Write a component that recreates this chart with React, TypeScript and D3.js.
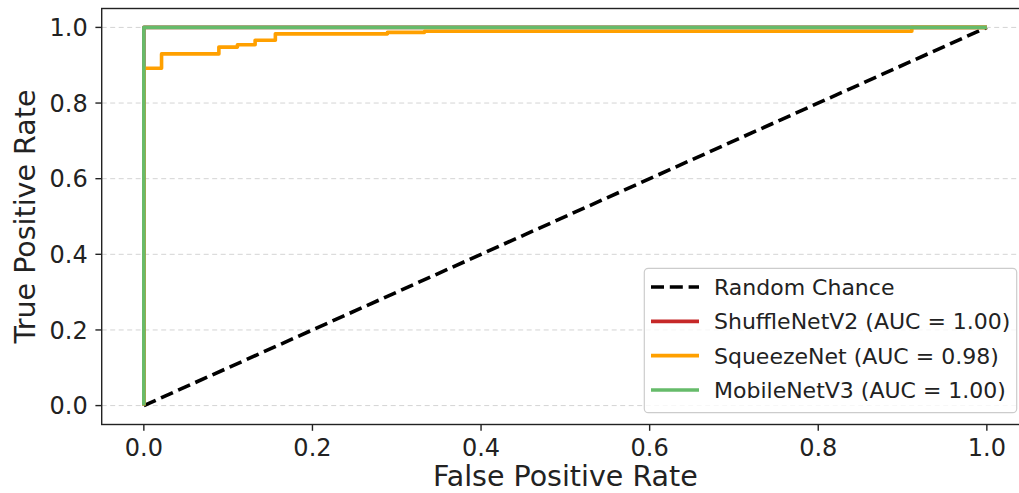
import * as d3 from "d3";
import { useEffect, useRef } from "react";

// ROC curves
const randomFpr = [0, 1];
const randomTpr = [0, 1];

const shuffleFpr = [0, 0, 1];
const shuffleTpr = [0, 1, 1];

const squeezeFpr = [0, 0, 0.021, 0.021, 0.089, 0.089, 0.111, 0.111, 0.132, 0.132, 0.156, 0.156, 0.289, 0.289, 0.333, 0.333, 0.911, 0.911, 1.0];
const squeezeTpr = [0, 0.892, 0.892, 0.93, 0.93, 0.948, 0.948, 0.954, 0.954, 0.966, 0.966, 0.983, 0.983, 0.987, 0.987, 0.99, 0.99, 1.0, 1.0];

const mobileFpr = [0, 0, 1];
const mobileTpr = [0, 1, 1];

const tickValues = [0, 0.2, 0.4, 0.6, 0.8, 1.0];

const legendLabels = [
  "Random Chance",
  "ShuffleNetV2 (AUC = 1.00)",
  "SqueezeNet (AUC = 0.98)",
  "MobileNetV3 (AUC = 1.00)",
];

const App = () => {
  const ref = useRef<SVGSVGElement>(null);

  useEffect(() => {
    const svg = d3.select(ref.current);
    svg.selectAll("*").remove();

    const width = 1019;
    const height = 493;
    const font = "DejaVu Sans, sans-serif";

    svg.attr("width", width).attr("height", height);

    // axes box (right side runs past the picture edge, like the original)
    const left = 101.7;
    const right = 1029;
    const top = 8.5;
    const bottom = 424.5;

    const x = d3.scaleLinear().domain([-0.05, 1.05]).range([left, right]);
    const y = d3.scaleLinear().domain([-0.05, 1.05]).range([bottom, top]);

    svg.append("rect").attr("width", width).attr("height", height).attr("fill", "white");

    svg
      .append("defs")
      .append("clipPath")
      .attr("id", "plot-clip")
      .append("rect")
      .attr("x", left)
      .attr("y", top)
      .attr("width", right - left)
      .attr("height", bottom - top);

    // horizontal grid
    svg
      .append("g")
      .selectAll("line")
      .data(tickValues)
      .join("line")
      .attr("x1", left)
      .attr("x2", right)
      .attr("y1", (d) => y(d))
      .attr("y2", (d) => y(d))
      .attr("stroke", "#d4d4d4")
      .attr("stroke-width", 1)
      .attr("stroke-dasharray", "5,3.5");

    const line = d3
      .line<[number, number]>()
      .x((d) => x(d[0]))
      .y((d) => y(d[1]));

    const curves = [
      { fpr: randomFpr, tpr: randomTpr, color: "#000000", dash: "13,5.8" },
      { fpr: shuffleFpr, tpr: shuffleTpr, color: "#c62828", dash: null },
      { fpr: squeezeFpr, tpr: squeezeTpr, color: "#ffa000", dash: null },
      { fpr: mobileFpr, tpr: mobileTpr, color: "#66bb6a", dash: null },
    ];

    const plot = svg.append("g").attr("clip-path", "url(#plot-clip)");
    curves.forEach((c) => {
      const pts = c.fpr.map((f, i) => [f, c.tpr[i]] as [number, number]);
      plot
        .append("path")
        .attr("d", line(pts))
        .attr("fill", "none")
        .attr("stroke", c.color)
        .attr("stroke-width", 3.6)
        .attr("stroke-linejoin", "round")
        .attr("stroke-dasharray", c.dash);
    });

    // spines
    svg
      .append("rect")
      .attr("x", left)
      .attr("y", top)
      .attr("width", right - left)
      .attr("height", bottom - top)
      .attr("fill", "none")
      .attr("stroke", "#222")
      .attr("stroke-width", 1.4);

    // x ticks
    const xt = svg.append("g");
    xt.selectAll("line")
      .data(tickValues)
      .join("line")
      .attr("x1", (d) => x(d))
      .attr("x2", (d) => x(d))
      .attr("y1", bottom)
      .attr("y2", bottom + 6.3)
      .attr("stroke", "#222")
      .attr("stroke-width", 1.4);
    xt.selectAll("text")
      .data(tickValues)
      .join("text")
      .attr("x", (d) => x(d))
      .attr("y", 456)
      .attr("text-anchor", "middle")
      .attr("font-family", font)
      .attr("font-size", 24)
      .attr("fill", "#222")
      .text((d) => d3.format(".1f")(d));

    // y ticks
    const yt = svg.append("g");
    yt.selectAll("line")
      .data(tickValues)
      .join("line")
      .attr("x1", left - 6.3)
      .attr("x2", left)
      .attr("y1", (d) => y(d))
      .attr("y2", (d) => y(d))
      .attr("stroke", "#222")
      .attr("stroke-width", 1.4);
    yt.selectAll("text")
      .data(tickValues)
      .join("text")
      .attr("x", left - 14)
      .attr("y", (d) => y(d))
      .attr("dy", "0.36em")
      .attr("text-anchor", "end")
      .attr("font-family", font)
      .attr("font-size", 24)
      .attr("fill", "#222")
      .text((d) => d3.format(".1f")(d));

    // axis labels
    svg
      .append("text")
      .attr("x", (left + right) / 2)
      .attr("y", 486)
      .attr("text-anchor", "middle")
      .attr("font-family", font)
      .attr("font-size", 28.5)
      .attr("fill", "#222")
      .text("False Positive Rate");

    svg
      .append("text")
      .attr("transform", `translate(35, ${(top + bottom) / 2}) rotate(-90)`)
      .attr("text-anchor", "middle")
      .attr("font-family", font)
      .attr("font-size", 28.5)
      .attr("fill", "#222")
      .text("True Positive Rate");

    // legend
    const lg = svg.append("g");
    lg.append("rect")
      .attr("x", 644.3)
      .attr("y", 268.3)
      .attr("width", 1016.7 - 644.3)
      .attr("height", 412.7 - 268.3)
      .attr("rx", 4)
      .attr("fill", "white")
      .attr("fill-opacity", 0.8)
      .attr("stroke", "#cccccc")
      .attr("stroke-width", 1.2);

    const rowY = d3.scaleLinear().domain([0, 3]).range([287, 390]);
    legendLabels.forEach((label, i) => {
      const c = curves[i];
      lg.append("line")
        .attr("x1", 651)
        .attr("x2", 699)
        .attr("y1", rowY(i))
        .attr("y2", rowY(i))
        .attr("stroke", c.color)
        .attr("stroke-width", 3.6)
        .attr("stroke-dasharray", c.dash);
      lg.append("text")
        .attr("x", 714)
        .attr("y", rowY(i))
        .attr("dy", "0.36em")
        .attr("font-family", font)
        .attr("font-size", 22)
        .attr("fill", "#222")
        .text(label);
    });
  }, []);

  return <svg ref={ref} style={{ position: "absolute", left: 0, top: 0 }}></svg>;
};

export default App;
